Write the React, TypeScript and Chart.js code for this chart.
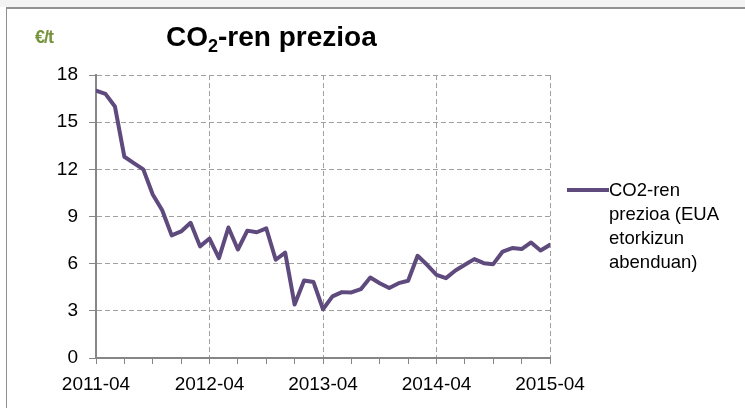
import React, { useEffect, useRef } from 'react';
import { Chart, registerables } from 'chart.js';

Chart.register(...registerables);

const months: string[] = [
  '2011-04', '2011-05', '2011-06', '2011-07', '2011-08', '2011-09', '2011-10', '2011-11', '2011-12',
  '2012-01', '2012-02', '2012-03', '2012-04', '2012-05', '2012-06', '2012-07', '2012-08', '2012-09',
  '2012-10', '2012-11', '2012-12', '2013-01', '2013-02', '2013-03', '2013-04', '2013-05', '2013-06',
  '2013-07', '2013-08', '2013-09', '2013-10', '2013-11', '2013-12', '2014-01', '2014-02', '2014-03',
  '2014-04', '2014-05', '2014-06', '2014-07', '2014-08', '2014-09', '2014-10', '2014-11', '2014-12',
  '2015-01', '2015-02', '2015-03', '2015-04',
];

const co2Price: number[] = [
  17.0, 16.8, 16.0, 12.8, 12.4, 12.0, 10.4, 9.4, 7.8, 8.05,
  8.6, 7.1, 7.6, 6.35, 8.3, 6.9, 8.1, 8.0, 8.25, 6.25,
  6.7, 3.4, 4.93, 4.83, 3.1, 3.92, 4.19, 4.17, 4.38, 5.12,
  4.76, 4.45, 4.76, 4.91, 6.5, 5.93, 5.29, 5.08, 5.57, 5.93,
  6.29, 6.03, 5.97, 6.77, 6.99, 6.93, 7.35, 6.84, 7.2,
];

const yTicks: number[] = [0, 3, 6, 9, 12, 15, 18];
const seriesLabel = 'CO2-ren prezioa (EUA etorkizun abenduan)';
const legendLines: string[] = ['CO2-ren', 'prezioa (EUA', 'etorkizun', 'abenduan)'];

const LINE_COLOR = '#5E4A7C';
const GRID_COLOR = '#a0a0a0';
const AXIS_COLOR = '#868686';
const FONT = '"Liberation Sans", Arial, sans-serif';

export default function App() {
  const canvasRef = useRef<HTMLCanvasElement | null>(null);

  useEffect(() => {
    const canvas = canvasRef.current;
    if (!canvas) return;
    const chart = new Chart(canvas, {
      type: 'line',
      data: {
        datasets: [
          {
            label: seriesLabel,
            data: co2Price.map((v, i) => ({ x: i, y: v })),
            borderColor: LINE_COLOR,
            backgroundColor: LINE_COLOR,
            borderWidth: 4,
            pointRadius: 0,
            tension: 0,
            borderJoinStyle: 'round',
            borderCapStyle: 'round',
          },
        ],
      },
      options: {
        responsive: false,
        animation: false,
        devicePixelRatio: 1,
        layout: { padding: { left: 0, right: 195, top: 75, bottom: 0 } },
        plugins: {
          legend: { display: false },
          title: { display: false },
          tooltip: { enabled: false },
        },
        scales: {
          x: {
            type: 'linear',
            min: 0,
            max: months.length - 1,
            afterFit: (scale: any) => {
              scale.height = 50;
            },
            ticks: {
              stepSize: 3,
              autoSkip: false,
              maxRotation: 0,
              minRotation: 0,
              padding: 9,
              color: '#000',
              font: { family: FONT, size: 19 },
              callback: (v: any) => {
                const n = Number(v);
                return n % 12 === 0 ? months[n] : '';
              },
            },
            grid: {
              color: (ctx: any) => {
                const v = ctx.tick ? ctx.tick.value : -1;
                return v % 12 === 0 && v !== 0 ? GRID_COLOR : 'rgba(0,0,0,0)';
              },
              tickColor: AXIS_COLOR,
              tickLength: 6,
              tickWidth: 1,
              lineWidth: 1,
            },
            border: { display: true, color: AXIS_COLOR, width: 2, dash: [5, 3] },
          },
          y: {
            type: 'linear',
            min: yTicks[0],
            max: yTicks[yTicks.length - 1],
            afterFit: (scale: any) => {
              scale.width = 96;
            },
            afterBuildTicks: (scale: any) => {
              scale.ticks = yTicks.map((v) => ({ value: v }));
            },
            ticks: {
              padding: 11,
              color: '#000',
              font: { family: FONT, size: 19 },
            },
            grid: {
              color: (ctx: any) => (ctx.tick && ctx.tick.value === 0 ? 'rgba(0,0,0,0)' : GRID_COLOR),
              tickColor: AXIS_COLOR,
              tickLength: 7,
              tickWidth: 1,
              lineWidth: 1,
            },
            border: { display: true, color: AXIS_COLOR, width: 2, dash: [5, 3] },
          },
        },
      },
    } as any);
    return () => chart.destroy();
  }, []);

  return (
    <div
      style={{
        position: 'absolute',
        left: 0,
        top: 0,
        width: 745,
        height: 408,
        overflow: 'hidden',
        background: '#fff',
        fontFamily: FONT,
      }}
    >
      <div style={{ position: 'absolute', left: 0, top: 0, width: 745, height: 7, background: '#f3f3f3' }} />
      <div
        style={{
          position: 'absolute',
          left: 6,
          top: 7,
          width: 760,
          height: 420,
          borderTop: '2px solid #929292',
          borderLeft: '1px solid #8f8f8f',
        }}
      />
      <canvas ref={canvasRef} width={745} height={408} style={{ position: 'absolute', left: 0, top: 0, width: 745, height: 408 }} />
      <div
        style={{
          position: 'absolute',
          left: 35,
          top: 28,
          fontSize: 18,
          lineHeight: '18px',
          fontWeight: 'bold',
          color: '#77933C',
          letterSpacing: '-1px',
          whiteSpace: 'nowrap',
        }}
      >
        €/t
      </div>
      <div
        style={{
          position: 'absolute',
          left: 166,
          top: 23,
          fontSize: 28,
          lineHeight: '28px',
          fontWeight: 'bold',
          color: '#000',
          whiteSpace: 'nowrap',
        }}
      >
        CO<sub style={{ fontSize: 18, verticalAlign: '-6px', lineHeight: 0 }}>2</sub>-ren prezioa
      </div>
      <div style={{ position: 'absolute', left: 567, top: 188, width: 42, height: 4, background: LINE_COLOR }} />
      <div
        style={{
          position: 'absolute',
          left: 609,
          top: 178,
          fontSize: 18.5,
          lineHeight: '24px',
          color: '#000',
          whiteSpace: 'nowrap',
        }}
      >
        {legendLines.map((t, i) => (
          <div key={i}>{t}</div>
        ))}
      </div>
    </div>
  );
}
